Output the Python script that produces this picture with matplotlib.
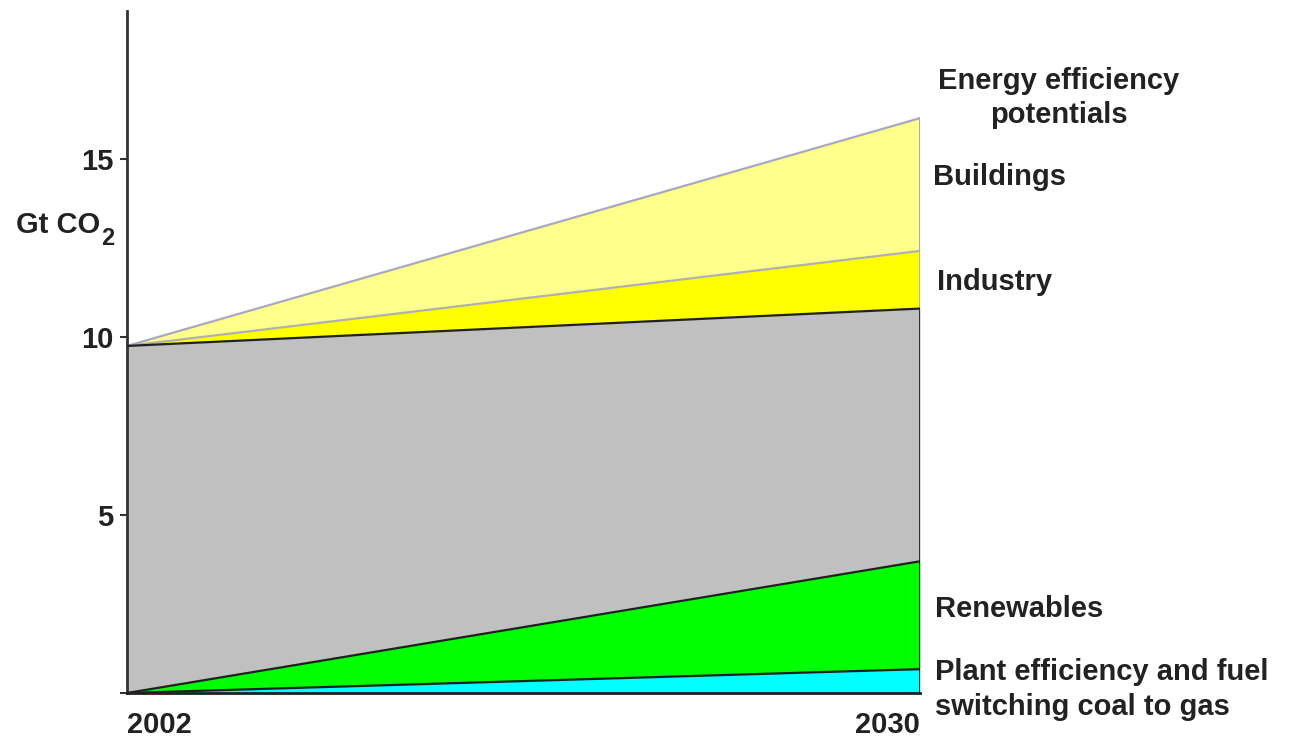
import numpy as np
import matplotlib.pyplot as plt

plt.rcParams['font.family'] = ['Liberation Sans', 'DejaVu Sans']

years = [2002, 2030]
# stacked layers, bottom to top (Gt CO2)
fuel_switch = [0.0, 0.67]
renewables = [0.0, 3.03]
remaining = [9.75, 7.1]
industry = [0.0, 1.62]
buildings = [0.0, 3.73]

layers = [fuel_switch, renewables, remaining, industry, buildings]
fill_colors = ['#00ffff', '#00ff00', '#c0c0c0', '#ffff00', '#ffff8c']
edge_colors = ['#202020', '#202020', '#202020', '#b0b0b0', '#a8a8c0']

label_text = ['Plant efficiency and fuel\nswitching coal to gas', 'Renewables',
              'Industry', 'Buildings', 'Energy efficiency\npotentials']

fig = plt.figure(figsize=(12.92, 7.40), dpi=100)
ax = fig.add_axes([127 / 1292, 1 - 693 / 740, (920 - 127) / 1292, (693 - 11) / 740])

tops = np.cumsum(np.array(layers, dtype=float), axis=0)
bottoms = np.vstack([np.zeros(len(years)), tops[:-1]])

for i in range(len(layers)):
    ax.fill_between(years, bottoms[i], tops[i], color=fill_colors[i], lw=0, zorder=1)
# boundary lines on top of the fills
for i in range(len(layers)):
    z = 3 if i < 3 else 2
    ax.plot(years, tops[i], color=edge_colors[i], lw=1.6, zorder=z)
    ax.plot([years[-1]] * 2, [bottoms[i][-1], tops[i][-1]], color=edge_colors[i],
            lw=2 if i < 3 else 1.4, zorder=z)
ax.plot(years, [0, 0], color='#202020', lw=2, zorder=3, clip_on=False)

ax.set_xlim(2002, 2030)
ax.set_ylim(0, 19.16)

for s in ['top', 'right', 'bottom']:
    ax.spines[s].set_visible(False)
ax.spines['left'].set_color('#333333')
ax.spines['left'].set_linewidth(2)

ax.set_yticks([0, 5, 10, 15])
ax.set_yticklabels(['', '5', '10', '15'])
ax.tick_params(axis='y', direction='out', length=5, width=1.5, color='#333333', pad=5,
               labelsize=21)
for t in ax.get_yticklabels():
    t.set_fontweight('bold')
    t.set_color('#222222')

ax.set_xticks(years)
ax.set_xticklabels([str(y) for y in years])
ax.tick_params(axis='x', length=0, pad=13, labelsize=21)
xl = ax.get_xticklabels()
xl[0].set_horizontalalignment('left')
xl[0].set_x(2001.8)
xl[1].set_horizontalalignment('right')
for t in xl:
    t.set_fontweight('bold')
    t.set_color('#222222')

# axis unit, with a hand-placed subscript
ax.text(2001.05, 13.15, 'Gt CO', ha='right', va='center', fontsize=21,
        fontweight='bold', color='#222222', clip_on=False)
ax.text(2001.07, 12.78, '2', ha='left', va='center', fontsize=17,
        fontweight='bold', color='#222222', clip_on=False)

# category labels at the right of the chart
label_pos = [(2030.53, 0.1, 'left'), (2030.53, 2.36, 'left'), (2030.6, 11.54, 'left'),
             (2030.45, 14.49, 'left'), (2034.9, 16.71, 'center')]
for (x, y, ha), txt in zip(label_pos, label_text):
    ax.text(x, y, txt, ha=ha, va='center', fontsize=21, fontweight='bold',
            color='#222222', linespacing=1.28,
            multialignment='center' if ha == 'center' else 'left', clip_on=False)

fig.savefig('out.png', dpi=100)
